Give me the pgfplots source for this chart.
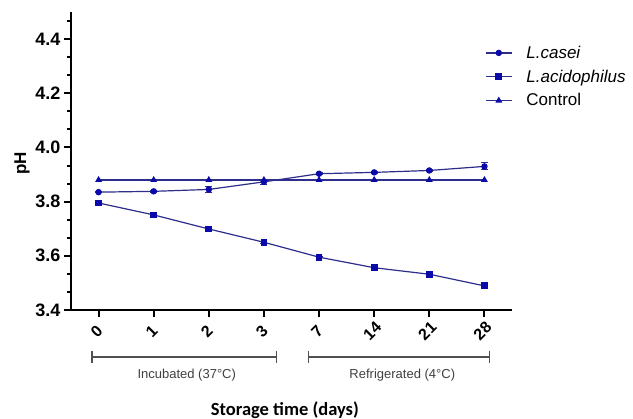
\documentclass[border=0pt]{standalone}
\usepackage{pgfplots}
\pgfplotsset{compat=1.18}
\usetikzlibrary{arrows.meta}
\usepackage{fontspec}
\setmainfont{Liberation Sans}
\newfontfamily\cali{Carlito}
\definecolor{serline}{RGB}{45,45,140}
\definecolor{sermark}{RGB}{10,10,170}
\definecolor{brack}{RGB}{80,80,80}

\begin{document}
\begin{tikzpicture}
\useasboundingbox (-71pt,-109pt) rectangle (562pt,310pt);
\begin{axis}[
  at={(0,0)}, anchor=south west,
  scale only axis,
  width=441pt, height=298pt,
  xmin=-0.5, xmax=7.5,
  ymin=3.4, ymax=4.5,
  axis x line*=bottom, axis y line*=left,
  x axis line style={-}, y axis line style={-},
  axis line style={line width=2.4pt, black},
  tick align=outside,
  tick style={line width=2pt, black},
  major tick length=7pt, minor tick length=4pt,
  xtick={0,1,2,3,4,5,6,7},
  xticklabels={0,1,2,3,7,14,21,28},
  ytick={3.4,3.6,3.8,4.0,4.2,4.4},
  minor ytick={3.4667,3.5333,3.6667,3.7333,3.8667,3.9333,4.0667,4.1333,4.2667,4.3333,4.4667},
  /pgf/number format/assume math mode=true,
  yticklabel style={font=\fontsize{18}{18}\selectfont\bfseries,
    /pgf/number format/.cd, fixed, fixed zerofill, precision=1},
  xticklabel style={font=\fontsize{16}{16}\selectfont\bfseries,
    anchor=center, inner sep=0pt, xshift=-2pt, yshift=-14pt, rotate=45},
  clip=false,
  legend cell align=left,
  legend style={at={(0.932,0.9)}, anchor=north west, draw=none, fill=none,
    font=\fontsize{17}{17}\selectfont, row sep=6pt},
  legend image code/.code={
    \draw[mark repeat=2, mark phase=2] plot coordinates {(0pt,0pt) (13pt,0pt) (26pt,0pt)};
    \path (0pt,0pt) (38pt,0pt);},
]
  % L. casei
  \addplot[serline, line width=1.2pt, mark=*, mark size=2.6pt,
           mark options={sermark, fill=sermark},
           error bars/.cd, y dir=both, y explicit,
           error bar style={line width=1pt, serline},
           error mark options={rotate=90, mark size=3.5pt, line width=1pt, serline}]
    coordinates {(0,3.835) +- (0,0.003) (1,3.838) +- (0,0.003) (2,3.845) +- (0,0.010)
                 (3,3.873) +- (0,0.010) (4,3.903) +- (0,0.003) (5,3.908) +- (0,0.003)
                 (6,3.915) +- (0,0.003) (7,3.930) +- (0,0.013)};
  \addlegendentry{\itshape L.casei}
  % L. acidophilus
  \addplot[serline, line width=1.2pt, mark=square*, mark size=2.8pt,
           mark options={sermark, fill=sermark},
           error bars/.cd, y dir=both, y explicit,
           error bar style={line width=1pt, serline},
           error mark options={rotate=90, mark size=3.5pt, line width=1pt, serline}]
    coordinates {(0,3.795) +- (0,0.003) (1,3.751) +- (0,0.003) (2,3.699) +- (0,0.004)
                 (3,3.650) +- (0,0.004) (4,3.595) +- (0,0.003) (5,3.556) +- (0,0.003)
                 (6,3.532) +- (0,0.003) (7,3.489) +- (0,0.006)};
  \addlegendentry{\itshape L.acidophilus}
  % Control
  \addplot[serline, line width=1.2pt, mark=triangle*, mark size=2.8pt,
           mark options={sermark, fill=sermark}]
    coordinates {(0,3.880) (1,3.880) (2,3.880) (3,3.880) (4,3.880) (5,3.880) (6,3.880) (7,3.880)};
  \addlegendentry{Control}
  % storage period brackets
  \draw[brack, line width=1.2pt, {Bar[width=12pt]}-{Bar[width=12pt]}]
    ([yshift=-47pt]axis cs:-0.13,3.4) -- ([yshift=-47pt]axis cs:3.24,3.4);
  \draw[brack, line width=1.2pt, {Bar[width=12pt]}-{Bar[width=12pt]}]
    ([yshift=-47pt]axis cs:3.8,3.4) -- ([yshift=-47pt]axis cs:7.1,3.4);
  \node[font=\fontsize{13}{13}\selectfont, text=brack!80!black]
    at ([yshift=-65pt]axis cs:1.6,3.4) {Incubated (37°C)};
  \node[font=\fontsize{13}{13}\selectfont, text=brack!80!black]
    at ([yshift=-65pt]axis cs:5.51,3.4) {Refrigerated (4°C)};
  \node[font=\cali\fontsize{18.5}{18.5}\selectfont\bfseries]
    at ([yshift=-100pt]rel axis cs:0.485,0) {Storage time (days)};
  \node[rotate=90, font=\fontsize{17}{17}\selectfont\bfseries]
    at ([xshift=-49pt]rel axis cs:0,0.493) {pH};
\end{axis}
\end{tikzpicture}
\end{document}
